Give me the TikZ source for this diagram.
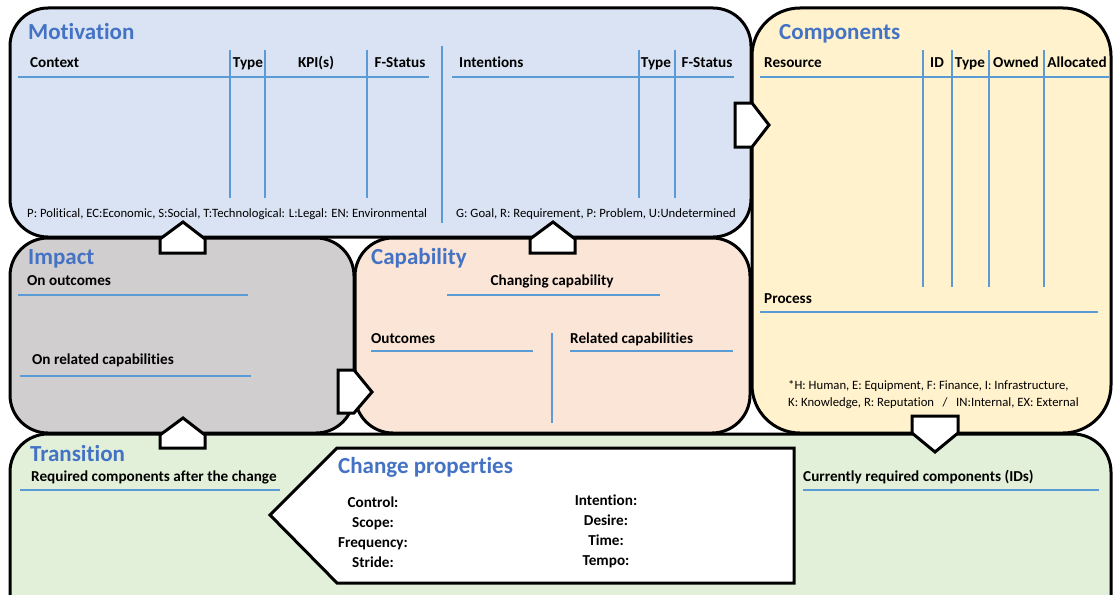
\documentclass[tikz,border=0pt]{standalone}
\usepackage{fontspec}
\setmainfont{Carlito}[Ligatures=NoCommon]
\usetikzlibrary{positioning}
\definecolor{motfill}{HTML}{DAE3F3}
\definecolor{comfill}{HTML}{FFF2CC}
\definecolor{impfill}{HTML}{D0CECE}
\definecolor{capfill}{HTML}{FBE5D6}
\definecolor{trafill}{HTML}{E2F0D9}
\definecolor{ttlblue}{HTML}{4472C4}
\definecolor{rulblue}{HTML}{5B9BD5}

\begin{document}
\begin{tikzpicture}[x=1pt, y=-1pt,
  title/.style={anchor=base west, inner sep=0pt, text=ttlblue,
    font=\fontsize{23}{25}\selectfont\bfseries},
  head/.style={anchor=base, inner sep=0pt,
    font=\fontsize{15.2}{17}\selectfont\bfseries},
  headw/.style={head, anchor=base west},
  note/.style={anchor=base west, inner sep=0pt,
    font=\fontsize{12.7}{14}\selectfont},
  rule/.style={draw=rulblue, line width=2pt},
  panel/.style={draw=black, line width=3pt, rounded corners=38pt},
  pointer/.style={draw=black, fill=white, line width=3pt, line join=miter}]

\useasboundingbox (0,0) rectangle (1113,594);
\clip (0,0) rectangle (1113,594);

% Table row heights
\def\Hy{67}   % header baseline
\def\Ry{77}   % header rule
\def\Ct{50}   % column top
\def\Cb{198}  % column bottom

%---------------------------------------
% Panels
%---------------------------------------
\filldraw[panel, fill=motfill] (10,8) rectangle (751,237);
\filldraw[panel, fill=comfill, rounded corners=48pt] (752,8) rectangle (1111,433);
\filldraw[panel, fill=impfill] (10,238) rectangle (354,433);
\filldraw[panel, fill=capfill] (355,238) rectangle (750,433);
\filldraw[panel, fill=trafill] (10,434) rectangle (1111,660);

%====================================================
% Motivation
%====================================================
\node[title] (mot) at (28,40) {Motivation};

% ---- Context table ----
\node[headw] (ctx) at (30,\Hy) {Context};
\node[head] (ctxtype) at (248,\Hy) {Type};
\node[head] (kpi) at (316,\Hy) {KPI(s)};
\node[head] (ctxstat) at (400,\Hy) {F-Status};
\draw[rule] (18,\Ry) -- (429,\Ry);
\foreach \cx in {230,265,367}
  \draw[rule] (\cx,\Ct) -- (\cx,\Cb);
\node[note] (ctxkey) at (27,217)
  {P: Political, EC:Economic, S:Social, T:Technological: L:Legal: EN: Environmental};

% divider
\draw[rule] (442,46) -- (442,223);

% ---- Intentions table ----
\node[headw] (int) at (459,\Hy) {Intentions};
\node[head] (inttype) at (656,\Hy) {Type};
\node[head] (intstat) at (707,\Hy) {F-Status};
\draw[rule] (452,\Ry) -- (734,\Ry);
\foreach \cx in {639,675}
  \draw[rule] (\cx,\Ct) -- (\cx,\Cb);
\node[note] (intkey) at (456,217)
  {G: Goal, R: Requirement, P: Problem, U:Undetermined};

%====================================================
% Components
%====================================================
\node[title] (com) at (779,40) {Components};

\node[headw] (res) at (764,\Hy) {Resource};
\node[head] (resid) at (937,\Hy) {ID};
\node[head] (restype) at (970,\Hy) {Type};
\node[head] (own) at (1016,\Hy) {Owned};
\node[head] (alloc) at (1077,\Hy) {Allocated};
\draw[rule] (760,\Ry) -- (1109,\Ry);
\foreach \cx in {923,952,989,1044}
  \draw[rule] (\cx,\Ct) -- (\cx,287);

\node[headw] (proc) at (764,303) {Process};
\draw[rule] (760,312) -- (1098,312);

\node[note] (reskey1) at (788,389)
  {*H: Human, E: Equipment, F: Finance, I: Infrastructure,};
\node[note] (reskey2) at (788,406)
  {K: Knowledge, R: Reputation \ \ / \ \ IN:Internal, EX: External};

%====================================================
% Impact
%====================================================
\node[title] (imp) at (28,264) {Impact};
\node[headw] (onout) at (27,285) {On outcomes};
\draw[rule] (18,295) -- (248,295);
\node[headw] (onrel) at (32,364) {On related capabilities};
\draw[rule] (20,376) -- (251,376);

%====================================================
% Capability
%====================================================
\node[title] (cap) at (371,264) {Capability};
\node[head] (chg) at (552,285) {Changing capability};
\draw[rule] (447,295) -- (660,295);
\node[headw] (outc) at (371,343) {Outcomes};
\draw[rule] (371,351) -- (533,351);
\draw[rule] (552,333) -- (552,423);
\node[headw] (relcap) at (570,343) {Related capabilities};
\draw[rule] (570,351) -- (733,351);

%====================================================
% Transition
%====================================================
\node[title] (tra) at (30,461) {Transition};
\node[headw] (after) at (31,481) {Required components after the change};
\draw[rule] (20,490) -- (280,490);
\node[headw] (now) at (803,481) {Currently required components (IDs)};
\draw[rule] (803,490) -- (1099,490);

% ---- Pointers between panels ----
\filldraw[pointer] (160,253) -- (160,239) -- (183,222) -- (205,239) -- (205,253) -- cycle;
\filldraw[pointer] (530,253) -- (530,239) -- (553,222) -- (575,239) -- (575,253) -- cycle;
\filldraw[pointer] (735,103) -- (752,103) -- (769,125) -- (752,147) -- (735,147) -- cycle;
\filldraw[pointer] (338,370) -- (354,370) -- (372,392) -- (354,413) -- (338,413) -- cycle;
\filldraw[pointer] (160,448) -- (160,435) -- (183,418) -- (205,435) -- (205,448) -- cycle;
\filldraw[pointer] (912,416) -- (958,416) -- (958,433) -- (935,452) -- (912,433) -- cycle;

% ---- Change properties ----
\filldraw[pointer] (270,515) -- (337,448) -- (794,448) -- (794,583) -- (337,583) -- cycle;
\node[title] (cprop) at (338,473) {Change properties};
\node[head] (ctrl) at (373,507) {Control:};
\node[head] (scope) at (373,527) {Scope:};
\node[head] (freq) at (373,547) {Frequency:};
\node[head] (stride) at (373,567) {Stride:};
\node[head] (intent) at (606,505) {Intention:};
\node[head] (desire) at (606,525) {Desire:};
\node[head] (time) at (606,545) {Time:};
\node[head] (tempo) at (606,565) {Tempo:};

\end{tikzpicture}
\end{document}
